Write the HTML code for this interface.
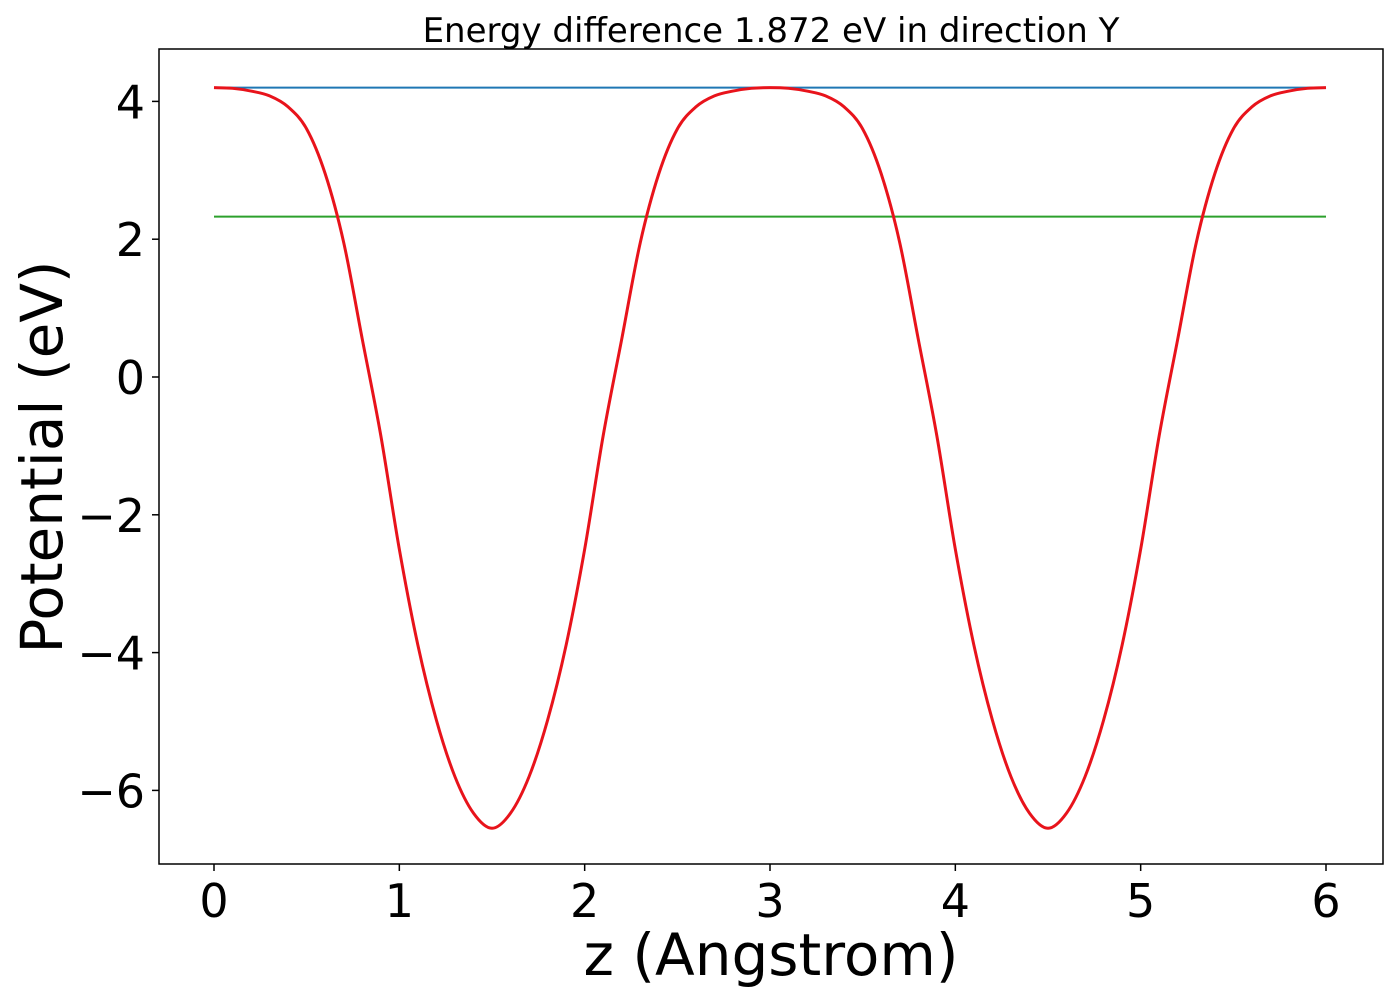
<!DOCTYPE html>
<html><head><meta charset="utf-8"><style>
body{margin:0;background:#fff;}
svg text{font-family:"DejaVu Sans","Liberation Sans",sans-serif;fill:#000;}
</style></head><body>
<svg id="chart" width="1400" height="1000">
<g id="g"></g>
</svg>
<script>
const zValues=[0,0.1,0.2,0.3,0.4,0.5,0.6,0.7,0.8,0.9,1.0,1.1,1.2,1.3,1.4,1.5,1.6,1.7,1.8,1.9,2.0,2.1,2.2,2.3,2.4,2.5,2.6,2.7,2.8,2.9,3.0,3.1,3.2,3.3,3.4,3.5,3.6,3.7,3.8,3.9,4.0,4.1,4.2,4.3,4.4,4.5,4.6,4.7,4.8,4.9,5.0,5.1,5.2,5.3,5.4,5.5,5.6,5.7,5.8,5.9,6.0];
const potential=[4.2,4.19,4.15,4.08,3.92,3.6,2.95,1.95,0.55,-0.85,-2.5,-3.89,-4.98,-5.8,-6.33,-6.55,-6.33,-5.8,-4.98,-3.89,-2.5,-0.85,0.55,1.95,2.95,3.6,3.92,4.08,4.15,4.19,4.2,4.19,4.15,4.08,3.92,3.6,2.95,1.95,0.55,-0.85,-2.5,-3.89,-4.98,-5.8,-6.33,-6.55,-6.33,-5.8,-4.98,-3.89,-2.5,-0.85,0.55,1.95,2.95,3.6,3.92,4.08,4.15,4.19,4.2];
const maxLevel=[4.2];
const fermiLevel=[2.328];
const xTicks=[0,1,2,3,4,5,6];
const yTicks=[4,2,0,-2,-4,-6];
const titleText="Energy difference 1.872 eV in direction Y";

const L=159,R=1383,T=49,B=864;
const X=v=>214+v*(1326-214)/6;
const Y=v=>377-v*68.9;
const g=document.getElementById('g');
const NS='http://www.w3.org/2000/svg';
function mk(t,a){const e=document.createElementNS(NS,t);for(const k in a)e.setAttribute(k,a[k]);g.appendChild(e);return e;}

let e=mk('line',{x1:X(0),x2:X(6),y1:Y(maxLevel[0]),y2:Y(maxLevel[0]),stroke:'#1f77b4','stroke-width':2});


e=mk('line',{x1:X(0),x2:X(6),y1:Y(fermiLevel[0]),y2:Y(fermiLevel[0]),stroke:'#2ca02c','stroke-width':2});


const pts=zValues.map((z,i)=>[X(z),Y(potential[i])]);
let d='M'+pts[0][0]+','+pts[0][1];
for(let i=0;i<pts.length-1;i++){
  const p0=pts[Math.max(0,i-1)],p1=pts[i],p2=pts[i+1],p3=pts[Math.min(pts.length-1,i+2)];
  const c1=[p1[0]+(p2[0]-p0[0])/6,p1[1]+(p2[1]-p0[1])/6];
  const c2=[p2[0]-(p3[0]-p1[0])/6,p2[1]-(p3[1]-p1[1])/6];
  d+=` C${c1[0]},${c1[1]} ${c2[0]},${c2[1]} ${p2[0]},${p2[1]}`;
}
e=mk('path',{d:d,fill:'none',stroke:'#e8131b','stroke-width':3,'stroke-linejoin':'round'});



e=mk('rect',{x:L,y:T,width:R-L,height:B-T,fill:'none',stroke:'#000','stroke-width':1.5});



xTicks.forEach(t=>{
  mk('line',{x1:X(t),x2:X(t),y1:B,y2:B+7,stroke:'#000','stroke-width':1.5});
  const tx=mk('text',{x:X(t),y:B+53,'text-anchor':'middle','font-size':46});
  tx.textContent=t;
  
  
});
yTicks.forEach(t=>{
  mk('line',{x1:L-7,x2:L,y1:Y(t),y2:Y(t),stroke:'#000','stroke-width':1.5});
  const tx=mk('text',{x:L-14,y:Y(t)+17,'text-anchor':'end','font-size':46});
  tx.textContent=t<0?'\u2212'+(-t):t;
  
  
});
e=mk('text',{x:771,y:975,'text-anchor':'middle','font-size':58});
e.textContent='z (Angstrom)';


e=mk('text',{x:0,y:0,'text-anchor':'middle','font-size':58,transform:'translate(62,457) rotate(-90)'});
e.textContent='Potential (eV)';


e=mk('text',{x:771,y:42,'text-anchor':'middle','font-size':34});
e.textContent=titleText;


</script>
</body></html>
